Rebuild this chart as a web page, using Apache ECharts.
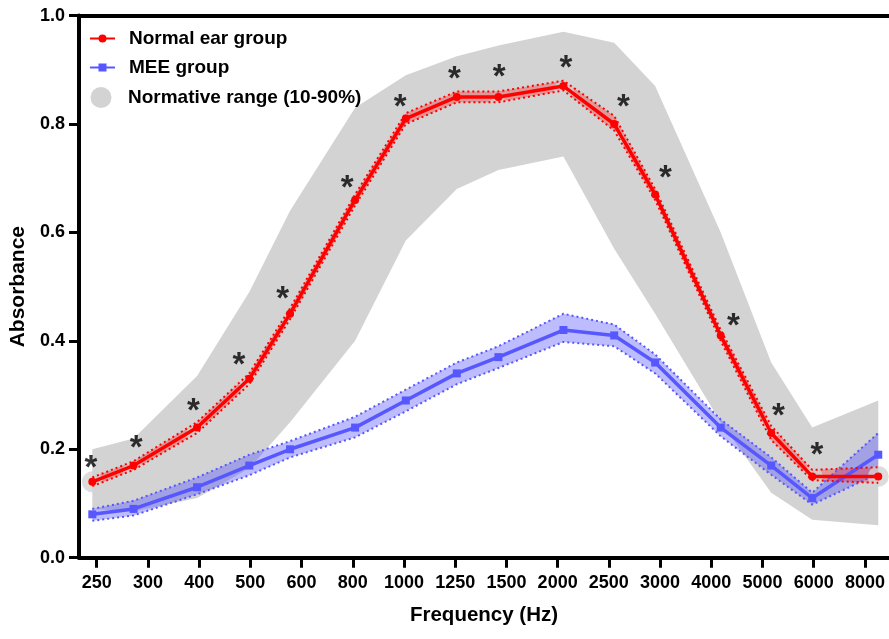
<!DOCTYPE html>
<html><head><meta charset="utf-8">
<script src="https://cdn.jsdelivr.net/npm/echarts@6/dist/echarts.min.js"></script>
<style>html,body{margin:0;padding:0;background:#fff}#c{width:889px;height:639px}</style>
</head><body><div id="c"></div>
<script>
// Tick labels (Hz)
const freqLabels = ['250','300','400','500','600','800','1000','1250','1500','2000','2500','3000','4000','5000','6000','8000'];
// Measured frequencies, expressed as position along the tick index scale
const freqPos = [-0.086, 0.719, 1.959, 2.979, 3.775, 5.045, 6.035, 7.031, 7.844, 9.113, 10.104, 10.904, 12.184, 13.170, 13.971, 15.260];

// Normal ear group (mean and CI bounds)
const normalMean  = [0.14, 0.17, 0.24, 0.33, 0.45, 0.66, 0.81, 0.85, 0.85, 0.87, 0.80, 0.67, 0.41, 0.23, 0.15, 0.15];
const normalUpper = [0.148, 0.178, 0.25, 0.34, 0.46, 0.67, 0.82, 0.86, 0.86, 0.88, 0.815, 0.68, 0.42, 0.243, 0.162, 0.167];
const normalLower = [0.132, 0.162, 0.23, 0.32, 0.44, 0.65, 0.80, 0.84, 0.84, 0.862, 0.788, 0.66, 0.40, 0.217, 0.143, 0.138];

// MEE group (mean and CI bounds)
const meeMean  = [0.08, 0.09, 0.13, 0.17, 0.20, 0.24, 0.29, 0.34, 0.37, 0.42, 0.41, 0.36, 0.24, 0.17, 0.11, 0.19];
const meeUpper = [0.09, 0.105, 0.148, 0.19, 0.215, 0.26, 0.31, 0.36, 0.39, 0.45, 0.43, 0.375, 0.255, 0.185, 0.12, 0.23];
const meeLower = [0.068, 0.078, 0.117, 0.152, 0.185, 0.222, 0.27, 0.32, 0.35, 0.398, 0.39, 0.34, 0.224, 0.153, 0.098, 0.155];

// Normative range (10-90%) and median
const normUpper  = [0.20, 0.22, 0.335, 0.49, 0.64, 0.83, 0.89, 0.925, 0.945, 0.97, 0.95, 0.87, 0.60, 0.36, 0.24, 0.29];
const normLower  = [0.09, 0.085, 0.11, 0.165, 0.25, 0.40, 0.585, 0.68, 0.715, 0.74, 0.57, 0.45, 0.25, 0.12, 0.07, 0.06];
const normMedian = [0.14, 0.16, 0.23, 0.32, 0.44, 0.62, 0.75, 0.80, 0.83, 0.86, 0.77, 0.66, 0.42, 0.24, 0.15, 0.15];

// Significance markers (*)
const sigPos = [-0.111, 0.768, 1.887, 2.779, 3.633, 4.889, 5.924, 6.984, 7.857, 9.160, 10.285, 11.105, 12.434, 13.313, 14.063];
const sigVal = [0.178, 0.214, 0.282, 0.367, 0.490, 0.694, 0.843, 0.895, 0.898, 0.916, 0.843, 0.712, 0.440, 0.273, 0.201];

const FONT = 'Liberation Sans, Arial, sans-serif';
const RED = '#ff0000', BLUE = '#5757ff', GREY = '#d3d3d3';
const zip = (xs, ys) => xs.map((x, i) => [x, ys[i]]);

function band(name, upper, lower, fill) {
  return {
    name: name, type: 'custom', silent: true,
    itemStyle: { color: fill },
    data: [[freqPos[0], upper[0]]],
    renderItem: function (params, api) {
      if (params.dataIndex !== 0) return null;
      const pts = [];
      for (let i = 0; i < freqPos.length; i++) pts.push(api.coord([freqPos[i], upper[i]]));
      for (let i = freqPos.length - 1; i >= 0; i--) pts.push(api.coord([freqPos[i], lower[i]]));
      return { type: 'polygon', shape: { points: pts }, style: { fill: fill } };
    }
  };
}
function dotted(vals, color) {
  return {
    type: 'line', silent: true, symbol: 'none', data: zip(freqPos, vals),
    lineStyle: { color: color, width: 2, type: [2, 3] }
  };
}

const ticks = freqLabels.map((_, i) => i);
const chart = echarts.init(document.getElementById('c'), null, { renderer: 'canvas' });
chart.setOption({
  animation: false,
  backgroundColor: '#fff',
  grid: { left: 79, right: 0, top: 15.6, bottom: 81.3 },
  xAxis: [{
    type: 'value', min: -0.346, max: 15.47,
    splitLine: { show: false },
    axisLine: { onZero: false, lineStyle: { color: '#000', width: 4 } },
    axisTick: { customValues: ticks, length: 10, lineStyle: { color: '#000', width: 3 } },
    axisLabel: { customValues: ticks, margin: 16, formatter: v => freqLabels[Math.round(v)],
      fontFamily: FONT, fontWeight: 'bold', fontSize: 18, color: '#000' },
    name: 'Frequency (Hz)', nameLocation: 'middle', nameGap: 47,
    nameTextStyle: { fontFamily: FONT, fontWeight: 'bold', fontSize: 20.5, color: '#000' }
  }, {
    type: 'value', position: 'top', min: -0.346, max: 15.47,
    splitLine: { show: false }, axisTick: { show: false }, axisLabel: { show: false },
    axisLine: { onZero: false, lineStyle: { color: '#000', width: 4 } }
  }],
  yAxis: {
    type: 'value', min: 0, max: 1, interval: 0.2,
    splitLine: { show: false },
    axisLine: { show: true, onZero: false, lineStyle: { color: '#000', width: 4 } },
    axisTick: { show: true, length: 10, lineStyle: { color: '#000', width: 3 } },
    axisLabel: { margin: 14, formatter: v => v.toFixed(1),
      fontFamily: FONT, fontWeight: 'bold', fontSize: 18, color: '#000' },
    name: 'Absorbance', nameLocation: 'middle', nameGap: 49,
    nameTextStyle: { fontFamily: FONT, fontWeight: 'bold', fontSize: 21, color: '#000' }
  },
  legend: [{
    orient: 'vertical', left: 89, top: 29, padding: 0, itemWidth: 25, itemHeight: 10, itemGap: 10,
    data: ['Normal ear group', 'MEE group'],
    textStyle: { fontFamily: FONT, fontWeight: 'bold', fontSize: 19, color: '#000', padding: [0, 0, 0, 9] }
  }, {
    orient: 'vertical', left: 90.5, top: 87, padding: 0, itemWidth: 21, itemHeight: 21,
    data: [{ name: 'Normative range (10-90%)', icon: 'circle', itemStyle: { color: GREY } }],
    textStyle: { fontFamily: FONT, fontWeight: 'bold', fontSize: 19, color: '#000', padding: [0, 0, 0, 11.5] }
  }],
  series: [
    band('Normative range (10-90%)', normUpper, normLower, GREY),
    { type: 'scatter', silent: true, symbol: 'circle', symbolSize: 21,
      itemStyle: { color: GREY }, data: zip(freqPos, normMedian) },
    band('MEE band', meeUpper, meeLower, 'rgba(87,87,255,0.4)'),
    dotted(meeUpper, BLUE), dotted(meeLower, BLUE),
    { name: 'MEE group', type: 'line', data: zip(freqPos, meeMean), symbol: 'rect', symbolSize: 8,
      lineStyle: { color: BLUE, width: 3.5 }, itemStyle: { color: BLUE } },
    band('Normal band', normalUpper, normalLower, 'rgba(255,0,0,0.28)'),
    dotted(normalUpper, RED), dotted(normalLower, RED),
    { name: 'Normal ear group', type: 'line', data: zip(freqPos, normalMean), symbol: 'circle', symbolSize: 8,
      lineStyle: { color: RED, width: 3.5 }, itemStyle: { color: RED } },
    { type: 'scatter', silent: true, symbolSize: 1, itemStyle: { color: 'rgba(0,0,0,0)' },
      data: zip(sigPos, sigVal),
      label: { show: true, position: 'inside', formatter: '*', offset: [0, 7.5],
        fontFamily: FONT, fontWeight: 'bold', fontSize: 33, color: '#000' } }
  ]
});
</script></body></html>
